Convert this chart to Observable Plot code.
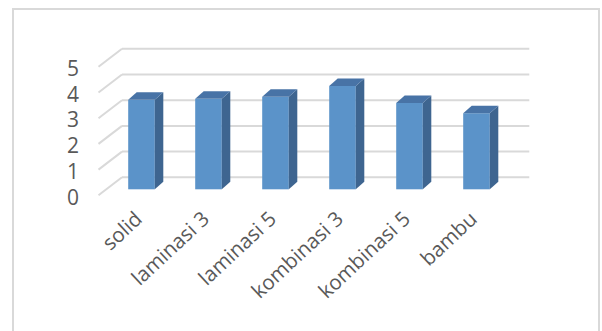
<!DOCTYPE html>
<html><head><meta charset="utf-8">
<script src="https://cdn.jsdelivr.net/npm/d3@7"></script>
<script src="https://cdn.jsdelivr.net/npm/@observablehq/plot@0.6"></script>
<style>
body{margin:0;background:#fff;}
#wrap{position:relative;width:602px;height:331px;overflow:hidden;background:#fff;}
#border{position:absolute;left:12px;top:8px;width:588px;height:340px;border:2px solid #d9d9d9;box-sizing:border-box;}
#chart{position:absolute;left:0;top:0;}
</style></head><body><div id="wrap"><div id="border"></div><div id="chart"></div></div>
<script>
const categories = ["solid", "laminasi 3", "laminasi 5", "kombinasi 3", "kombinasi 5", "bambu"];
const values = [3.48, 3.52, 3.6, 4.02, 3.36, 2.96];
const yTicks = [0, 1, 2, 3, 4, 5];

const data = categories.map((c, i) => ({category: c, value: values[i]}));

const WALL = {dx: 15.5, dy: -12};   // back wall offset from bar front plane
const FLOOR = {dx: -8, dy: 6};      // front edge of floor/side wall
const DEPTH = {dx: 8.5, dy: -7.5};  // bar depth
const INSET = 20.2;
const FONT = "'Open Sans', sans-serif";

function walls(index, scales, vals, dim) {
  const y = scales.y;
  const left = dim.marginLeft, right = dim.width - dim.marginRight;
  const g = d3.create("svg:g").attr("stroke", "#d9d9d9").attr("stroke-width", 2).attr("fill", "none");
  for (const t of yTicks) {
    const yy = y(t);
    g.append("line")
      .attr("x1", left + WALL.dx).attr("x2", right + WALL.dx + 1.5)
      .attr("y1", yy + WALL.dy).attr("y2", yy + WALL.dy);
    g.append("line")
      .attr("x1", left + FLOOR.dx).attr("y1", yy + FLOOR.dy)
      .attr("x2", left + WALL.dx).attr("y2", yy + WALL.dy);
  }
  return g.node();
}

function faces(index, scales, vals, dim) {
  const x = scales.x, y = scales.y;
  const bw = x.bandwidth();
  const g = d3.create("svg:g");
  for (const d of data) {
    const x0 = x(d.category) + INSET, x1 = x(d.category) + bw - INSET;
    const y0 = y(0), y1 = y(d.value);
    g.append("path")
      .attr("fill", "#3e6590")
      .attr("d", `M${x1},${y0}L${x1},${y1}L${x1 + DEPTH.dx},${y1 + DEPTH.dy}L${x1 + DEPTH.dx},${y0 + DEPTH.dy}Z`);
    g.append("path")
      .attr("fill", "#4873a6")
      .attr("d", `M${x0},${y1}L${x1},${y1}L${x1 + DEPTH.dx},${y1 + DEPTH.dy}L${x0 + DEPTH.dx},${y1 + DEPTH.dy}Z`);
  }
  return g.node();
}

const chart = Plot.plot({
  width: 602,
  height: 331,
  marginLeft: 106.5,
  marginRight: 89.7,
  marginTop: 60.8,
  marginBottom: 141.7,
  style: {background: "transparent", fontFamily: FONT},
  x: {domain: categories, padding: 0, axis: null},
  y: {domain: [0, 5], axis: null},
  marks: [
    walls,
    Plot.barY(data, {x: "category", y: "value", fill: "#5b93c9", insetLeft: INSET, insetRight: INSET}),
    faces,
    Plot.text(yTicks, {y: d => d, frameAnchor: "left", dx: -28, dy: 8, textAnchor: "end", fontSize: 21, fill: "#595959", text: d => String(d)}),
    Plot.text(categories, {x: d => d, y: () => 0, dx: -3, dy: 26, rotate: -43, textAnchor: "end", fontSize: 20.5, fill: "#595959", text: d => d})
  ]
});
document.getElementById("chart").appendChild(chart);
</script>
</body></html>
